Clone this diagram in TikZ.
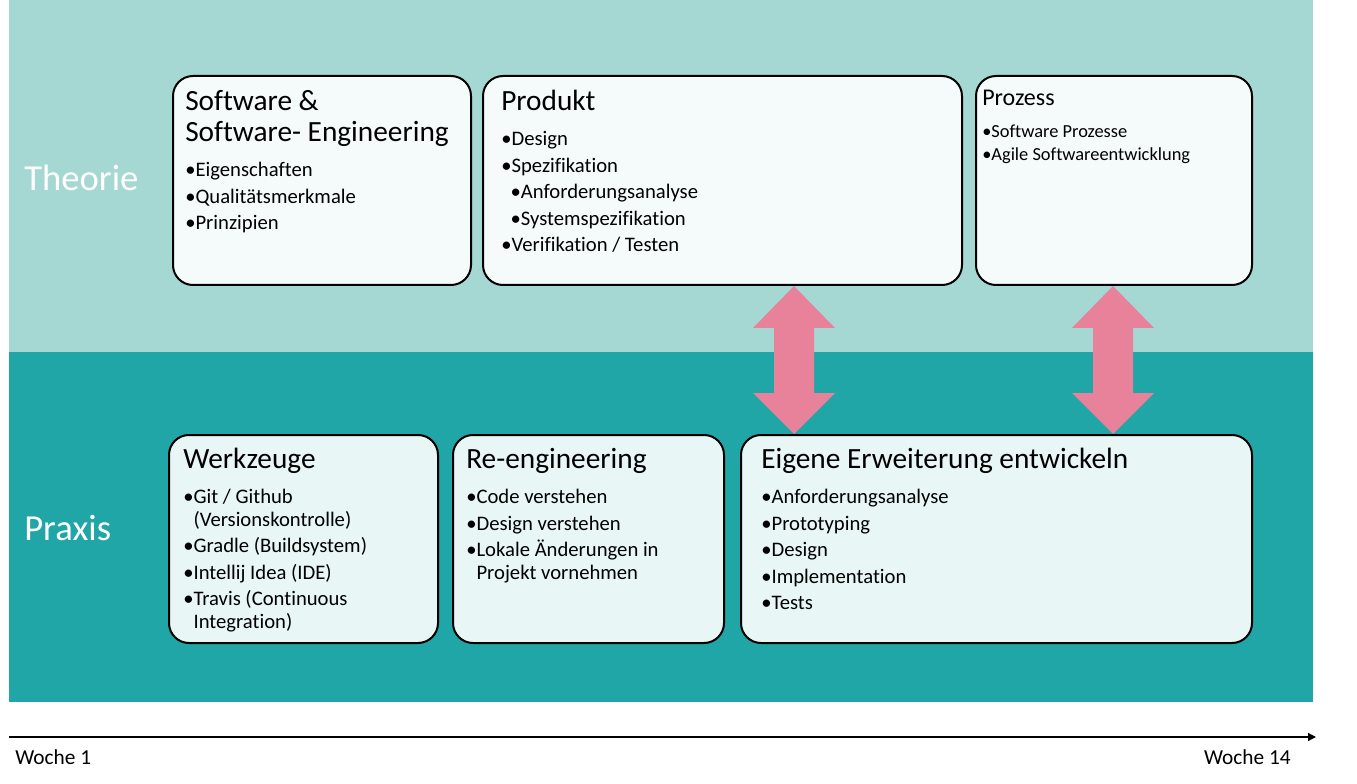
\documentclass[tikz,border=0pt]{standalone}
\usepackage{fontspec}
\setmainfont{Carlito}[Ligatures=NoCommon]
\usetikzlibrary{positioning,fit,calc,arrows.meta}
\definecolor{theoriegruen}{RGB}{165,216,211}
\definecolor{praxisgruen}{RGB}{32,166,166}
\definecolor{boxhell}{RGB}{245,251,251}
\definecolor{boxdunkel}{RGB}{232,246,245}
\definecolor{pfeilrosa}{RGB}{232,130,154}
\tikzset{
  kasten/.style={draw=black, line width=1.5pt, rounded corners=15pt, inner sep=0pt},
  oben/.style={kasten, fill=boxhell},
  unten/.style={kasten, fill=boxdunkel},
  titel/.style={inner sep=0pt, anchor=base west, font=\fontsize{22}{23}\selectfont},
  liste/.style={inner sep=0pt, anchor=north west, align=left, font=\fontsize{15.5}{16.9}\selectfont},
  bereich/.style={inner sep=0pt, anchor=west, text=white, font=\fontsize{27.5}{30}\selectfont},
  woche/.style={inner sep=0pt, font=\fontsize{16}{18}\selectfont}
}
\begin{document}
\begin{tikzpicture}[x=0.75pt,y=-0.75pt]
    \useasboundingbox (0,0) rectangle (1357,784);
    % Hintergrund
    \fill[theoriegruen] (9,0) rectangle (1313,352);
    \fill[praxisgruen] (9,352) rectangle (1313,702);
    \node[bereich] (theorie) at (24,178) {Theorie};
    \node[bereich] (praxis) at (24,528) {Praxis};

    % Kaesten
    \node[oben, fit={(173,76) (471,285)}] (swe) {};
    \node[oben, fit={(483,76) (962,285)}] (produkt) {};
    \node[oben, fit={(976,76) (1252,285)}] (prozess) {};
    \node[unten, fit={(169,435) (438,643)}] (werkzeuge) {};
    \node[unten, fit={(453,435) (724,643)}] (reeng) {};
    \node[unten, fit={(741,435) (1252,643)}] (eigene) {};

    % Doppelpfeile
    \coordinate (a1t) at (produkt.south -| 794,0);
    \coordinate (a1b) at (eigene.north -| 794,0);
    \coordinate (a2t) at (prozess.south -| 1113,0);
    \coordinate (a2b) at (eigene.north -| 1113,0);
    \foreach \o/\u in {a1t/a1b, a2t/a2b}
        \fill[pfeilrosa] (\o) -- ++(41,42) -- ++(-21,0) -- ($(\u)+(20,-41)$) -- ++(21,0) -- (\u)
            -- ++(-41,-41) -- ++(21,0) -- ($(\o)+(-20,42)$) -- ++(-21,0) -- cycle;

    % Texte Theorie
    \node[titel] (sweT) at ([shift={(13,35.5)}]swe.north west) {Software \&};
    \node[titel] (sweT2) at ([shift={(0,31)}]sweT.base west) {Software- Engineering};
    \node[liste] (sweL) at ([shift={(13,87)}]swe.north west) {•Eigenschaften\\[3pt]•Qualitätsmerkmale\\[3pt]•Prinzipien};
    \node[titel] (produktT) at ([shift={(19,35.5)}]produkt.north west) {Produkt};
    \node[liste] (produktL) at ([shift={(19,56)}]produkt.north west)
        {•Design\\[3pt]•Spezifikation\\[3pt]\hspace*{7pt}•Anforderungsanalyse\\[3pt]\hspace*{7pt}•Systemspezifikation\\[3pt]•Verifikation / Testen};
    \node[titel, font=\fontsize{18}{20}\selectfont] (prozessT) at ([shift={(7,31)}]prozess.north west) {Prozess};
    \node[liste, font=\fontsize{13.8}{17.3}\selectfont] (prozessL) at ([shift={(7,50)}]prozess.north west)
        {•Software Prozesse\\•Agile Softwareentwicklung};

    % Texte Praxis
    \node[titel] (werkzeugeT) at ([shift={(15,34.5)}]werkzeuge.north west) {Werkzeuge};
    \node[liste] (werkzeugeL) at ([shift={(15,55)}]werkzeuge.north west)
        {•Git / Github\\\phantom{•}(Versionskontrolle)\\[3pt]•Gradle (Buildsystem)\\[3pt]•Intellij Idea (IDE)\\[3pt]•Travis (Continuous\\\phantom{•}Integration)};
    \node[titel] (reengT) at ([shift={(14,34.5)}]reeng.north west) {Re-engineering};
    \node[liste] (reengL) at ([shift={(14,55)}]reeng.north west)
        {•Code verstehen\\[3pt]•Design verstehen\\[3pt]•Lokale Änderungen in\\\phantom{•}Projekt vornehmen};
    \node[titel] (eigeneT) at ([shift={(21,34.5)}]eigene.north west) {Eigene Erweiterung entwickeln};
    \node[liste] (eigeneL) at ([shift={(21,55)}]eigene.north west)
        {•Anforderungsanalyse\\[3pt]•Prototyping\\[3pt]•Design\\[3pt]•Implementation\\[3pt]•Tests};

    % Zeitachse
    \coordinate (start) at (9,737);
    \coordinate (ende) at (1316,737);
    \draw[line width=1pt, -{Triangle[length=6pt,width=6pt]}] (start) -- (ende);
    \node[woche, anchor=west] (w1) at (15,757) {Woche 1};
    \node[woche, anchor=east] (w14) at (1291,757) {Woche 14};
\end{tikzpicture}
\end{document}
